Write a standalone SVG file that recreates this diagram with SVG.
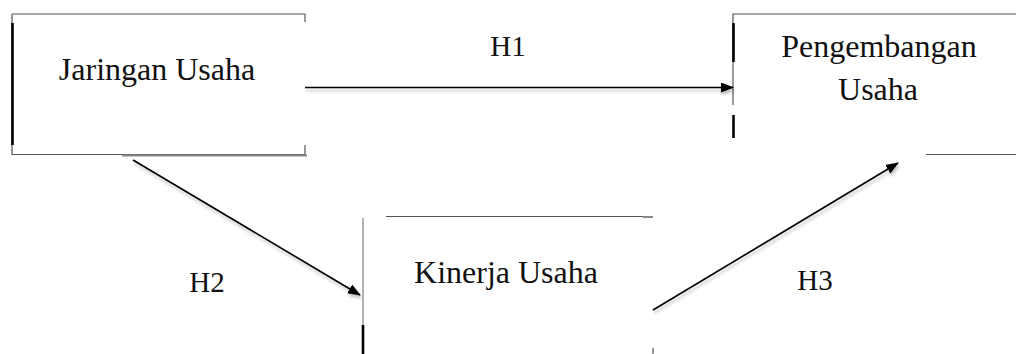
<svg xmlns="http://www.w3.org/2000/svg" width="1016" height="354" viewBox="0 0 1016 354">
<style>
.edge{fill:none;stroke:#555;stroke-width:1.2}
.thick{fill:none;stroke:#000;stroke-width:2.6}
text{font-family:'Liberation Serif','DejaVu Serif',Tinos,'Times New Roman',serif;fill:#111;text-anchor:middle}
.lbl{font-size:32px}
.hl{font-size:29px}
.conn{fill:none;stroke:#000;stroke-width:1.6}
</style>
<defs>
<marker id="arr" markerUnits="userSpaceOnUse" markerWidth="14" markerHeight="11" refX="12" refY="5" orient="auto">
<path d="M0,0 L13,5 L0,10 z" fill="#000"/>
</marker>
<filter id="sh" x="-10%" y="-10%" width="120%" height="140%">
<feGaussianBlur in="SourceAlpha" stdDeviation="1.5"/>
<feOffset dx="1" dy="3" result="b"/>
<feComponentTransfer><feFuncA type="linear" slope="0.25"/></feComponentTransfer>
<feMerge><feMergeNode/><feMergeNode in="SourceGraphic"/></feMerge>
</filter>
</defs>
<rect width="1016" height="354" fill="#fff"/>
<g id="node-jaringan">
<path class="edge" d="M12,14 H305 V22 M305,145 V154.5 H12 V14"/>
<path d="M122,155.5 H307" stroke="#888" stroke-width="2" fill="none"/>
<path class="thick" d="M12.5,23 V145"/>
<text class="lbl" x="157" y="80" font-family="Liberation Serif, serif">Jaringan Usaha</text>
</g>
<g id="node-pengembangan">
<path class="edge" d="M1016,14 H733 V105"/>
<path class="thick" d="M733.5,23 V62 M733.5,115 V138"/>
<path class="edge" d="M926,154.5 H1016"/>
<text class="lbl" x="879" y="57" font-family="Liberation Serif, serif">Pengembangan</text>
<text class="lbl" x="878" y="100" font-family="Liberation Serif, serif">Usaha</text>
</g>
<g id="node-kinerja">
<path class="edge" d="M386,216.5 H645"/>
<path d="M643,217 H653" stroke="#888" stroke-width="2" fill="none"/>
<path d="M363,218 V325" stroke="#999" stroke-width="1.5" fill="none"/>
<path class="thick" d="M363,325 V354"/>
<path class="edge" d="M653,348 V354"/>
<text class="lbl" x="506" y="283" font-family="Liberation Serif, serif">Kinerja Usaha</text>
</g>
<g id="connectors" filter="url(#sh)">
<path class="conn" d="M305,87.5 H733" marker-end="url(#arr)"/>
<path class="conn" d="M133,160 L360,295" marker-end="url(#arr)"/>
<path class="conn" d="M653,310 L898,163" marker-end="url(#arr)"/>
</g>
<g id="labels">
<text class="hl" x="508" y="56" font-family="Liberation Serif, serif">H1</text>
<text class="hl" x="207" y="292" font-family="Liberation Serif, serif">H2</text>
<text class="hl" x="815" y="290" font-family="Liberation Serif, serif">H3</text>
</g>
</svg>
